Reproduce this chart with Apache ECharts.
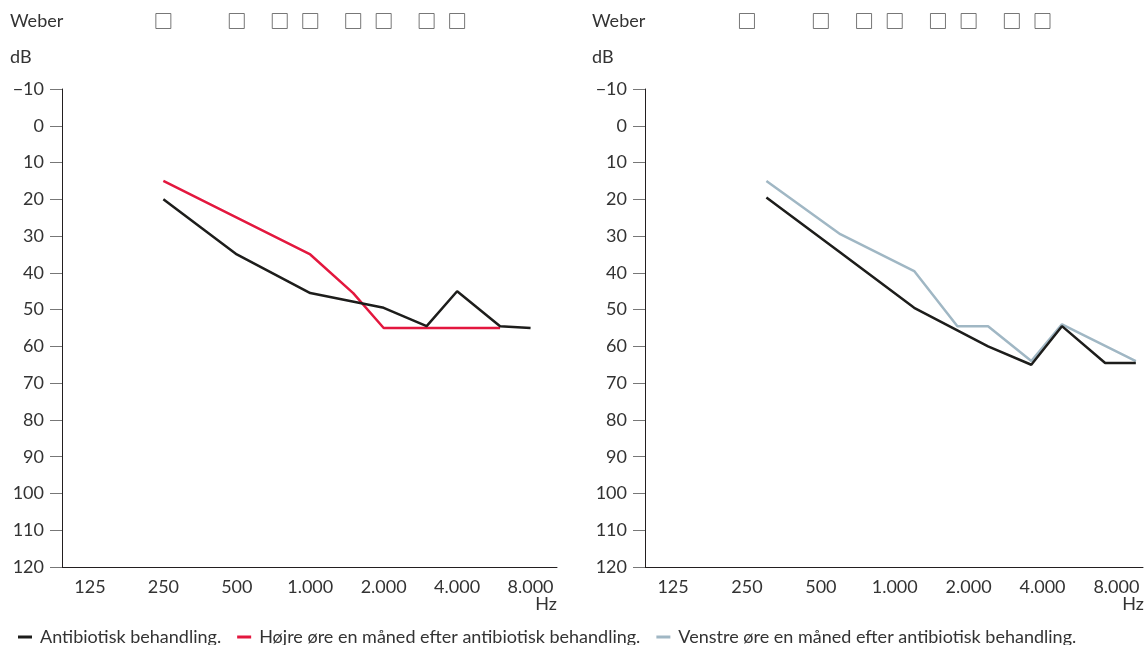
<!DOCTYPE html>
<html>
<head>
    <meta charset="utf-8">
    <title>Audiogram</title>
    <script src="https://cdn.jsdelivr.net/npm/echarts@6/dist/echarts.min.js"></script>
    <style>
        html, body { margin: 0; padding: 0; background: #fff; }
        #chart { width: 1148px; height: 645px; }
    </style>
</head>
<body>
<div id="chart"></div>
<script type="text/javascript">
    // frekvens-akse (Hz), vist som oktaver fra 125 Hz
    var freqLabels = ['125', '250', '500', '1.000', '2.000', '4.000', '8.000'];
    var weberFreq = [250, 500, 750, 1000, 1500, 2000, 3000, 4000];

    // venstre diagram
    var treatFreqA = [250, 500, 1000, 2000, 3000, 4000, 6000, 8000];
    var treatA = [20, 35, 45.5, 49.5, 54.5, 45, 54.5, 55];
    var rightEarFreq = [250, 500, 1000, 1500, 2000, 3000, 4000, 6000];
    var rightEar = [15, 25, 35, 45.5, 55, 55, 55, 55];

    // højre diagram
    var treatFreqB = [300, 600, 1200, 2400, 3600, 4800, 7200, 9600];
    var treatB = [19.5, 34.5, 49.5, 60, 65, 54.5, 64.5, 64.5];
    var leftEarFreq = [300, 600, 1200, 1800, 2400, 3600, 4800, 9600];
    var leftEar = [15, 29.5, 39.5, 54.5, 54.5, 64, 54, 64];

    var names = ['Antibiotisk behandling.', 'Højre øre en måned efter antibiotisk behandling.', 'Venstre øre en måned efter antibiotisk behandling.'];
    var colors = ['#1d1d1b', '#e3173e', '#a0b7c4'];
    var FONT = 'Lato';
    var FS = 18;

    function oct(f) { return Math.log2(f / 125); }
    function pairs(fs, vs) { return fs.map(function (f, i) { return [oct(f), vs[i]]; }); }

    var chart = echarts.init(document.getElementById('chart'));

    function xAxisMain(gi) {
        return {
            type: 'value', gridIndex: gi, min: -0.38, max: 6.36, position: 'bottom',
            axisLine: { onZero: false, lineStyle: { color: '#231f20', width: 1 } },
            axisTick: { show: false },
            splitLine: { show: false },
            axisLabel: {
                customValues: [0, 1, 2, 3, 4, 5, 6],
                formatter: function (v) { return freqLabels[Math.round(v)]; },
                color: '#333', fontSize: FS, fontFamily: FONT, margin: 11
            }
        };
    }
    function xAxisWeber(gi) {
        return { type: 'value', gridIndex: gi, min: -0.38, max: 6.36, show: false };
    }
    function yAxisMain(gi) {
        return {
            type: 'value', gridIndex: gi, inverse: true, min: -10, max: 120, interval: 10,
            axisLine: { show: true, onZero: false, lineStyle: { color: '#231f20', width: 1 } },
            axisTick: { show: true, length: 12, lineStyle: { color: '#777' } },
            splitLine: { show: false },
            axisLabel: {
                formatter: function (v) { return v < 0 ? '\u2212' + Math.abs(v) : String(v); },
                color: '#333', fontSize: FS, fontFamily: FONT, margin: 18
            }
        };
    }
    function yAxisWeber(gi) {
        return { type: 'value', gridIndex: gi, min: 0, max: 1, show: false };
    }
    function weberSeries(ai) {
        return {
            type: 'scatter', xAxisIndex: ai, yAxisIndex: ai, symbol: 'rect', symbolSize: 15,
            itemStyle: { color: '#fff', borderColor: '#555', borderWidth: 1 },
            silent: true,
            data: weberFreq.map(function (f) { return [oct(f), 0.5]; })
        };
    }
    function lineSeries(ai, name, color, data, z) {
        return {
            type: 'line', name: name, xAxisIndex: ai, yAxisIndex: ai, z: z,
            symbol: 'none', lineStyle: { color: color, width: 2.5 }, itemStyle: { color: color },
            data: data
        };
    }
    function txt(x, y, s, align) {
        return { type: 'text', x: x, y: y, style: { text: s, fill: '#333', font: FS + 'px ' + FONT, textAlign: align || 'left', textVerticalAlign: 'middle' } };
    }

    chart.setOption({
        animation: false,
        grid: [
            { left: 62, top: 89, width: 495, height: 478 },
            { left: 645, top: 89, width: 498, height: 478 },
            { left: 62, top: 10, width: 495, height: 22 },
            { left: 645, top: 10, width: 498, height: 22 }
        ],
        xAxis: [xAxisMain(0), xAxisMain(1), xAxisWeber(2), xAxisWeber(3)],
        yAxis: [yAxisMain(0), yAxisMain(1), yAxisWeber(2), yAxisWeber(3)],
        legend: {
            left: 13, top: 623, itemWidth: 14, itemHeight: 3, itemGap: 16, icon: 'rect',
            data: names,
            textStyle: { color: '#333', fontSize: FS, fontFamily: FONT, padding: [0, 0, 0, 3] }
        },
        graphic: [
            txt(10, 21, 'Weber'), txt(10, 57, 'dB'), txt(557, 604, 'Hz', 'right'),
            txt(592, 21, 'Weber'), txt(592, 57, 'dB'), txt(1144, 604, 'Hz', 'right')
        ],
        series: [
            lineSeries(0, names[1], colors[1], pairs(rightEarFreq, rightEar), 2),
            lineSeries(0, names[0], colors[0], pairs(treatFreqA, treatA), 3),
            lineSeries(1, names[2], colors[2], pairs(leftEarFreq, leftEar), 2),
            lineSeries(1, names[0], colors[0], pairs(treatFreqB, treatB), 3),
            weberSeries(2),
            weberSeries(3)
        ]
    });
</script>
</body>
</html>
